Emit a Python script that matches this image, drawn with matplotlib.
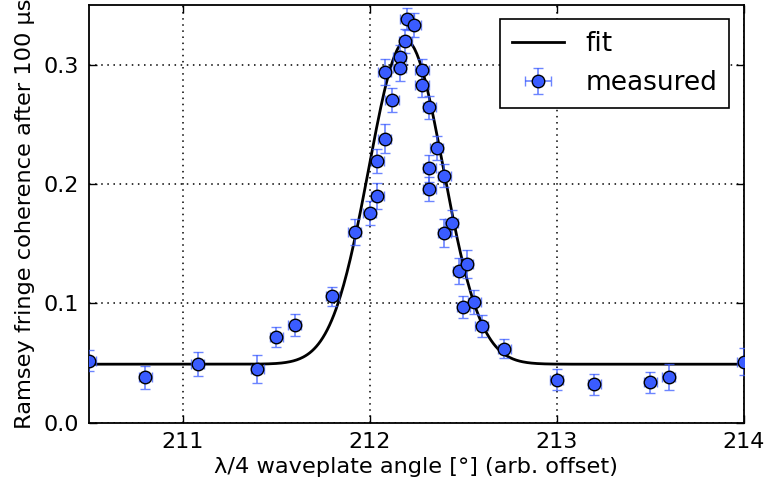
import numpy as np
import matplotlib
matplotlib.use("Agg")
import matplotlib.pyplot as plt

# measured data
angle = [210.50, 210.80, 211.08, 211.40, 211.50, 211.60, 211.80, 211.92, 212.00,
         212.04, 212.04, 212.08, 212.08, 212.12, 212.16, 212.16, 212.20, 212.19,
         212.24, 212.28, 212.28, 212.32, 212.32, 212.32, 212.36, 212.40, 212.40,
         212.44, 212.48, 212.52, 212.50, 212.56, 212.60, 212.72, 213.00, 213.20,
         213.50, 213.60, 214.00]
coherence = [0.052, 0.038, 0.049, 0.045, 0.072, 0.082, 0.106, 0.160, 0.176,
             0.190, 0.219, 0.238, 0.294, 0.270, 0.306, 0.297, 0.338, 0.320,
             0.333, 0.295, 0.283, 0.264, 0.213, 0.196, 0.230, 0.207, 0.159,
             0.167, 0.127, 0.133, 0.097, 0.101, 0.081, 0.062, 0.036, 0.032,
             0.034, 0.038, 0.051]
coherence_err = [0.009, 0.0095, 0.0098, 0.012, 0.0085, 0.009, 0.008, 0.011, 0.010,
                 0.011, 0.010, 0.012, 0.011, 0.010, 0.010, 0.011, 0.009, 0.010,
                 0.010, 0.010, 0.010, 0.010, 0.011, 0.010, 0.010, 0.010, 0.012,
                 0.011, 0.011, 0.012, 0.009, 0.010, 0.009, 0.008, 0.009, 0.0092,
                 0.0088, 0.011, 0.0114]
angle_err = 0.035

# Gaussian fit parameters
fit_offset = 0.049
fit_amp = 0.271
fit_center = 212.195
fit_sigma = 0.199

xticks = [211, 212, 213, 214]
yticks = [0.0, 0.1, 0.2, 0.3]

plt.rcParams['font.family'] = ['DejaVu Sans']
fig = plt.figure(figsize=(7.66, 4.91), dpi=100)
fig.patch.set_facecolor('white')
ax = fig.add_axes([0.1162, 0.1391, 0.8547, 0.8511])

xf = np.linspace(210.5, 214.0, 600)
yf = fit_offset + fit_amp * np.exp(-(xf - fit_center) ** 2 / (2 * fit_sigma ** 2))
ax.plot(xf, yf, color='black', lw=2.0, label='fit', zorder=3)

ax.errorbar(angle, coherence, yerr=coherence_err, xerr=angle_err, fmt='o',
            color='#3a5cff', ecolor=(0.23, 0.36, 1.0, 0.75), elinewidth=1.2,
            capsize=3.5, capthick=1.2, markersize=9, markeredgecolor='black',
            markeredgewidth=1.0, label='measured', zorder=4)

ax.set_xlim(210.5, 214.0)
ax.set_ylim(0.0, 0.35)
ax.set_xticks(xticks)
ax.set_yticks(yticks)
ax.set_xticklabels([str(t) for t in xticks])
ax.set_yticklabels(['%.1f' % t for t in yticks])
ax.tick_params(direction='in', length=6, width=1, labelsize=16, top=True,
               right=True, pad=7)
ax.grid(True, color='black', linestyle=(0, (1, 3)), linewidth=1.1)
for s in ax.spines.values():
    s.set_linewidth(1.3)

ax.set_xlabel('λ/4 waveplate angle [°] (arb. offset)', fontsize=16.2, labelpad=3)
ax.set_ylabel('Ramsey fringe coherence after 100 µs', fontsize=16.2, labelpad=6)

leg = ax.legend(loc='upper right', fontsize=19, fancybox=False, framealpha=1,
                edgecolor='black', borderpad=0.45, handlelength=2.0,
                borderaxespad=0.55)
leg.get_frame().set_linewidth(1.2)

fig.savefig('out.png', dpi=100, facecolor='white')
